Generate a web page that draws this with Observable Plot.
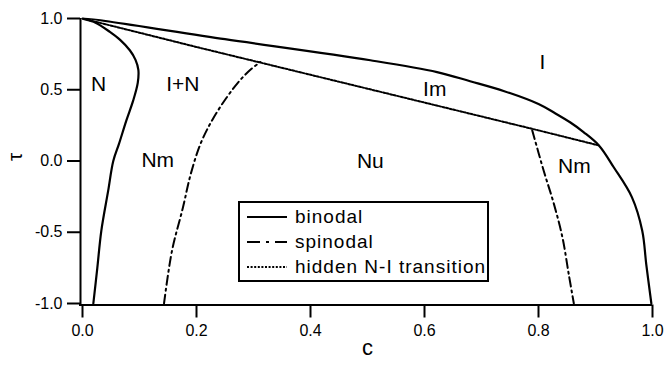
<!DOCTYPE html>
<html>
<head>
<meta charset="utf-8">
<script src="https://cdn.jsdelivr.net/npm/d3@7"></script>
<script src="https://cdn.jsdelivr.net/npm/@observablehq/plot@0.6"></script>
<style>
  html, body { margin: 0; padding: 0; background: #fff; }
  #wrap { position: relative; width: 666px; height: 367px; font-family: "Liberation Sans", Arial, sans-serif; }
  #legend { position: absolute; left: 238px; top: 201px; width: 247px; height: 77px; border: 2px solid #000; background: #fff; }
  .row { position: absolute; left: 0; height: 25px; display: flex; align-items: center; }
  .row svg { margin-left: 7px; margin-right: 8px; }
  .row span { font-size: 19px; letter-spacing: 1px; color: #000; white-space: nowrap; }
</style>
</head>
<body>
<div id="wrap"></div>
<script>
// ---- data ----
const cTicks = [0, 0.2, 0.4, 0.6, 0.8, 1.0];
const tauTicks = [-1, -0.5, 0, 0.5, 1];

// binodal: left (nematic) branch from bottom up to (0,1), then the isotropic branch down to (1,-1)
const binodalC   = [0.019, 0.026, 0.033, 0.045, 0.054, 0.064, 0.077, 0.089, 0.097, 0.098, 0.093, 0.083, 0.066, 0.048, 0.022, 0.0,
                    0.25, 0.505, 0.622, 0.68, 0.74, 0.80, 0.827, 0.856, 0.879, 0.906, 0.932, 0.964, 0.982, 0.989, 0.998];
const binodalTau = [-1.0, -0.75, -0.49, -0.21, 0.0, 0.12, 0.285, 0.425, 0.55, 0.64, 0.71, 0.777, 0.85, 0.906, 0.972, 1.0,
                    0.855, 0.707, 0.624, 0.56, 0.49, 0.40, 0.34, 0.27, 0.203, 0.109, -0.044, -0.255, -0.489, -0.723, -1.0];

const spinodalLeftC   = [0.143, 0.157, 0.176, 0.19, 0.207, 0.228, 0.252, 0.276, 0.296, 0.312];
const spinodalLeftTau = [-1.0, -0.63, -0.33, -0.09, 0.12, 0.29, 0.44, 0.565, 0.645, 0.695];

const spinodalRightC   = [0.789, 0.809, 0.827, 0.842, 0.853, 0.862];
const spinodalRightTau = [0.215, -0.067, -0.301, -0.536, -0.793, -1.0];

const hiddenC   = [0.0, 0.2, 0.4, 0.6, 0.8, 0.906];
const hiddenTau = [1.0, 0.80, 0.605, 0.41, 0.215, 0.109];

const regionLabels = ["N", "I+N", "Nm", "Nu", "Im", "I", "Nm"];
const regionC      = [0.028, 0.176, 0.132, 0.505, 0.618, 0.807, 0.863];
const regionTau    = [0.537, 0.537, 0.003, 0.0, 0.50, 0.69, -0.04];

const legendNames = ["binodal", "spinodal", "hidden N-I transition"];

// ---- build tables ----
const binodal = binodalC.map((c, i) => ({c, tau: binodalTau[i]}));
const spinL = spinodalLeftC.map((c, i) => ({c, tau: spinodalLeftTau[i]}));
const spinR = spinodalRightC.map((c, i) => ({c, tau: spinodalRightTau[i]}));
const hidden = hiddenC.map((c, i) => ({c, tau: hiddenTau[i]}));
const regions = regionLabels.map((t, i) => ({t, c: regionC[i], tau: regionTau[i]}));

const spinDash = "9,4,2,4";
const dotDash = "2,1.6";

const chart = Plot.plot({
  width: 666,
  height: 367,
  marginLeft: 82,
  marginRight: 14,
  marginTop: 18,
  marginBottom: 64,
  style: {fontFamily: "'Liberation Sans', Arial, sans-serif", fontSize: "16px", background: "#fff", color: "#000"},
  x: {domain: [0, 1]},
  y: {domain: [-1, 1]},
  marks: [
    Plot.axisY({ticks: tauTicks, tickFormat: d => d.toFixed(1), tickSize: 13, tickPadding: 5, dx: -2, strokeWidth: 2, label: null, fontSize: 16, style: {letterSpacing: "1.4px"}}),
    Plot.axisX({ticks: cTicks, tickFormat: d => d.toFixed(1), tickSize: 13, tickPadding: 7, dy: 1.5, strokeWidth: 2, label: null, fontSize: 16}),
    Plot.ruleX([0], {dx: -2, insetBottom: -2.5, strokeWidth: 2}),
    Plot.ruleY([-1], {dy: 1.5, insetLeft: -3, strokeWidth: 2}),
    Plot.line(hidden, {x: "c", y: "tau", stroke: "#000", strokeWidth: 2, strokeDasharray: dotDash}),
    Plot.line(spinL, {x: "c", y: "tau", stroke: "#000", strokeWidth: 2, strokeDasharray: spinDash, curve: "catmull-rom"}),
    Plot.line(spinR, {x: "c", y: "tau", stroke: "#000", strokeWidth: 2, strokeDasharray: spinDash, curve: "catmull-rom"}),
    Plot.line(binodal, {x: "c", y: "tau", stroke: "#000", strokeWidth: 2.2, curve: "catmull-rom"}),
    Plot.text(regions, {x: "c", y: "tau", text: "t", fontSize: 21, fill: "#000"}),
    Plot.text(["τ"], {frameAnchor: "left", dx: -67, rotate: -90, fontSize: 21, fill: "#000"}),
    Plot.text(["c"], {frameAnchor: "bottom", dy: 51, fontSize: 22, fill: "#000"})
  ]
});

const wrap = document.getElementById("wrap");
wrap.appendChild(chart);

// legend box inside the plot area
const legend = document.createElement("div");
legend.id = "legend";
const samples = [
  {dash: null, w: 2.2},
  {dash: "13,6,3,6", w: 2},
  {dash: dotDash, w: 1.8}
];
legendNames.forEach((name, i) => {
  const row = document.createElement("div");
  row.className = "row";
  row.style.top = (1 + i * 25) + "px";
  const s = samples[i];
  row.innerHTML = `<svg width="40" height="6"><line x1="0" y1="3" x2="40" y2="3" stroke="#000" stroke-width="${s.w}" ${s.dash ? `stroke-dasharray="${s.dash}"` : ""}/></svg><span>${name}</span>`;
  legend.appendChild(row);
});
wrap.appendChild(legend);
</script>
</body>
</html>
